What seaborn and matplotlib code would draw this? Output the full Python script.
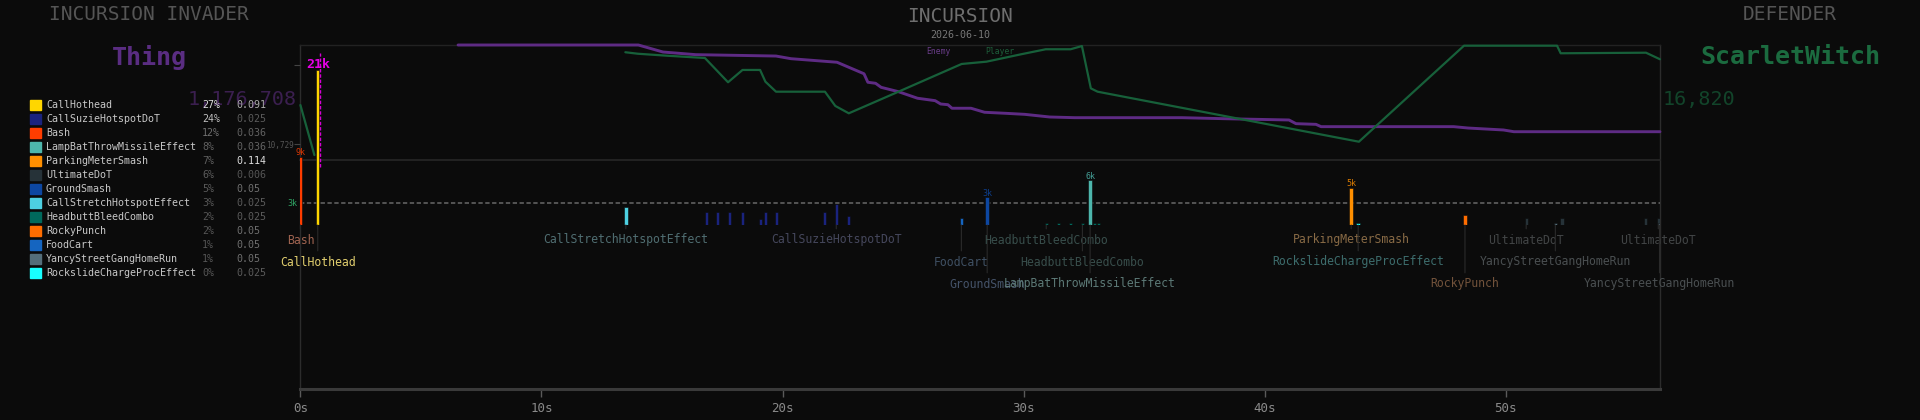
import numpy as np
import pandas as pd
import seaborn as sns
import matplotlib.pyplot as plt
from matplotlib.patches import Rectangle
from matplotlib.colors import to_rgb
from matplotlib.transforms import blended_transform_factory

# ---- data ---------------------------------------------------------------
attacker_name = "Thing"
attacker_hp = "1,176,708"
defender_name = "ScarletWitch"
defender_hp = "16,820"
fight_date = "2026-06-10"

abilities = ["CallHothead", "CallSuzieHotspotDoT", "Bash", "LampBatThrowMissileEffect",
             "ParkingMeterSmash", "UltimateDoT", "GroundSmash", "CallStretchHotspotEffect",
             "HeadbuttBleedCombo", "RockyPunch", "FoodCart", "YancyStreetGangHomeRun",
             "RockslideChargeProcEffect"]
ability_share = [27, 24, 12, 8, 7, 6, 5, 3, 2, 2, 1, 1, 0]
ability_rate = [0.091, 0.025, 0.036, 0.036, 0.114, 0.006, 0.05, 0.025, 0.025, 0.05, 0.05, 0.05, 0.025]

# individual hits: time (s), ability, damage (thousands)
hit_time = [0.00, 0.72, 13.50, 16.84, 17.29, 17.79, 18.33, 19.08, 19.29, 19.74, 21.73, 22.23,
            22.73, 27.42, 28.49, 30.94, 31.44, 31.94, 32.44, 32.76, 32.94, 33.11, 43.59, 43.88,
            48.31, 50.85, 52.06, 52.33, 55.79, 56.33, 56.38]
CS, HB = "CallSuzieHotspotDoT", "HeadbuttBleedCombo"
hit_ability = ["Bash", "CallHothead", "CallStretchHotspotEffect", CS, CS, CS, CS, CS, CS, CS, CS,
               CS, CS, "FoodCart", "GroundSmash", HB, HB, HB, HB, "LampBatThrowMissileEffect",
               HB, HB, "ParkingMeterSmash", "RockslideChargeProcEffect", "RockyPunch",
               "UltimateDoT", "YancyStreetGangHomeRun", "UltimateDoT", "UltimateDoT",
               "UltimateDoT", "YancyStreetGangHomeRun"]
hit_dmg = [9.3, 21.1, 2.4, 1.8, 1.8, 1.8, 1.8, 0.86, 1.8, 1.8, 1.8, 2.8, 1.27, 1.0, 3.8,
           0.3, 0.3, 0.3, 0.3, 6.1, 0.3, 0.3, 5.1, 0.3, 1.4, 0.95, 0.3, 0.95, 0.95, 0.95, 0.3]
dmg_threshold = 3.0
peak_marker_t = 0.83

# hp curves in percent of max
enemy_t = [6.54, 12.43, 14.02, 15.04, 16.40, 19.73, 20.35, 22.26, 23.38, 23.54, 23.86, 24.09,
           24.81, 25.60, 26.33, 26.56, 26.86, 27.03, 27.82, 28.38, 29.26, 30.05, 31.08, 32.12,
           36.57, 38.36, 41.01, 41.30, 42.13, 42.34, 47.84, 48.44, 49.91, 50.34, 56.40]
enemy_hp = [100, 100, 100, 93.9, 91.6, 90.4, 88.1, 85.0, 75.0, 67.6, 66.7, 63.2, 59.4, 53.7,
            51.6, 48.7, 48.1, 45.0, 45.0, 41.5, 40.6, 39.7, 37.4, 36.8, 36.8, 35.9, 34.8, 31.6,
            31.0, 29.0, 29.0, 27.8, 26.1, 24.6, 24.6]
player_t = [0.0, 0.58,
            13.48, 14.00, 15.20, 16.78, 17.74, 18.34, 19.07, 19.29, 19.73, 21.76, 22.19, 22.75,
            24.81, 27.43, 28.46, 29.89, 30.92, 31.95, 32.42, 32.79, 33.07, 43.91, 48.27, 52.13,
            52.28, 55.82, 56.40]
player_hp = [47.8, 4.3,
             93.7, 92.4, 90.7, 88.7, 67.6, 78.3, 78.3, 68.1, 59.4, 59.4, 47.0, 40.6,
             59.4, 83.5, 85.5, 91.9, 96.3, 96.3, 99.1, 62.3, 59.4, 15.9, 99.4, 99.4,
             92.8, 93.3, 87.6]
player_seg = [0, 0] + [1] * 27
hp_tick_pct, hp_tick_label = 13.9, "10,729"

# ---- style / layout -----------------------------------------------------
BG = "#0b0b0b"
ability_colors = dict(zip(abilities, ["#ffd600", "#1a237e", "#ff3d00", "#4db6ac", "#ff8f00",
                                      "#263238", "#0d47a1", "#4dd0e1", "#00695c", "#ff6d00",
                                      "#1565c0", "#546e7a", "#18ffff"]))
ENEMY_C, PLAYER_C = "#5e2b84", "#17603a"
label_rows = [1, 2, 1, 0, 0, 0, 0, 0, 0, 0, 0, 1, 0, 2, 3, 1, 0, 0, 2, 3, 0, 0, 1, 2, 3, 1, 2,
              0, 0, 1, 3]
row_offset = {1: -15, 2: -37, 3: -59}

W, H = 1920, 420
L, R = 300.4, 1660
PX_PER_S = 24.106


def fx(x):
    return x / W


def fy(y):
    return 1 - y / H


def mix(c1, c2, f):
    return tuple(a * (1 - f) + b * f for a, b in zip(to_rgb(c1), to_rgb(c2)))


def gray(level):
    v = 0x55 + (0xdd - 0x55) * level
    return "#%02x%02x%02x" % (int(v), int(v), int(v))


sns.set_theme(style="dark", rc={"axes.facecolor": BG, "figure.facecolor": BG})
plt.rcParams["font.family"] = ["DejaVu Sans Mono", "DejaVu Sans"]

fig = plt.figure(figsize=(19.2, 4.2), dpi=100, facecolor=BG)
xmax = (R - L) / PX_PER_S

ax_main = fig.add_axes([fx(L), fy(389), (R - L) / W, (389 - 45) / H])
ax_hp = fig.add_axes([fx(L), fy(160), (R - L) / W, (160 - 45) / H])
ax_bar = fig.add_axes([fx(L), fy(225), (R - L) / W, (225 - 45) / H])
for ax in (ax_hp, ax_bar):
    ax.set_facecolor("none")
    ax.set_xlim(0, xmax)
    for s in ax.spines.values():
        s.set_visible(False)
    ax.tick_params(bottom=False, labelbottom=False)

# frame + time axis
ax_main.set_facecolor(BG)
ax_main.set_xlim(0, xmax)
ax_main.set_ylim(0, 1)
ax_main.set_yticks([])
ax_main.set_xticks(range(0, 51, 10), [f"{t}s" for t in range(0, 51, 10)])
ax_main.tick_params(axis="x", colors="#5a5a5a", labelcolor="#8a8a8a", labelsize=9,
                    length=6, width=1, pad=3, bottom=True)
for k, s in ax_main.spines.items():
    s.set_visible(True)
    s.set_color("#2c2c2c")
    s.set_linewidth(1)
ax_main.spines["top"].set_color("#222222")
ax_main.spines["bottom"].set_color("#3a3a3a")
ax_main.spines["bottom"].set_linewidth(2.2)

# hp lines
df_enemy = pd.DataFrame({"t": enemy_t, "hp": enemy_hp})
df_player = pd.DataFrame({"t": player_t, "hp": player_hp, "seg": player_seg})
sns.lineplot(data=df_enemy, x="t", y="hp", color=ENEMY_C, lw=2.1, ax=ax_hp,
             estimator=None, sort=False)
sns.lineplot(data=df_player, x="t", y="hp", units="seg", color=PLAYER_C, lw=1.6, ax=ax_hp,
             estimator=None, sort=False)
for ln in ax_hp.lines:
    ln.set_clip_on(False)
ax_hp.set_ylim(0, 100)
ax_hp.set_xlabel("")
ax_hp.set_ylabel("")
ax_hp.spines["bottom"].set_visible(True)
ax_hp.spines["bottom"].set_color("#262626")
ax_hp.set_yticks([hp_tick_pct], [hp_tick_label])
ax_hp.tick_params(axis="y", left=True, length=4, width=0.8, colors="#444444",
                  labelcolor="#555555", labelsize=5.6, pad=1)

# damage bars
vmax = max(hit_dmg)
ax_bar.set_ylim(0, (225 - 45) / ((225 - 203) / dmg_threshold))
bar_colors = [ability_colors[a] for a in hit_ability]
ax_bar.bar(hit_time, hit_dmg, width=0.14, color=bar_colors, edgecolor=BG, linewidth=0.4,
           zorder=3)
ax_bar.axhline(dmg_threshold, color="#5a5a5a", lw=1.3, ls=(0, (2.4, 1.4)), zorder=2)
trans = blended_transform_factory(ax_bar.transAxes, ax_bar.transData)
ax_bar.text(-0.002, dmg_threshold, f"{int(dmg_threshold)}k", transform=trans, ha="right",
            va="center", color="#2fa463", fontsize=6)
ax_bar.vlines(peak_marker_t, 7.9, 23.4, colors="#d400d4", lw=1, linestyles=(0, (2.5, 1.3)),
              zorder=4)
ax_bar.set_yticks([vmax + 0.7], [""])
ax_bar.tick_params(axis="y", left=True, length=4, width=0.8, colors="#444444")

for t, a, v, row in zip(hit_time, hit_ability, hit_dmg, label_rows):
    if v == vmax:
        ax_bar.annotate(f"{int(v)}k", (t, v), xytext=(0, 6), textcoords="offset pixels",
                        ha="center", va="center", color="#e600e6", fontsize=9.5,
                        fontweight="bold", zorder=5)
    elif v >= dmg_threshold:
        ax_bar.annotate(f"{int(v)}k", (t, v), xytext=(0, 4), textcoords="offset pixels",
                        ha="center", va="center", color=mix(ability_colors[a], BG, 0.15),
                        fontsize=6, zorder=5)
    if row:
        a_lvl = 0.45 + 0.55 * min(1.0, v / vmax)
        col = mix(BG, mix(ability_colors[a], "#c8c8c8", 0.55), a_lvl)
        ax_bar.annotate(a, (t, 0), xytext=(0, row_offset[row]), textcoords="offset pixels",
                        ha="center", va="center", color=col, fontsize=8.3,
                        arrowprops=dict(arrowstyle="-", color="#2a2a2a", lw=0.8,
                                        shrinkA=1, shrinkB=0))

# ---- headers -------------------------------------------------------------
fig.text(fx(149), fy(15), "INCURSION INVADER", ha="center", va="center", color="#555555",
         fontsize=14)
fig.text(fx(149), fy(57), attacker_name, ha="center", va="center", color="#5a2d82",
         fontsize=18, fontweight="bold")
fig.text(fx(297), fy(99), attacker_hp, ha="right", va="center", color="#3b1f50", fontsize=14.5)
fig.text(fx(1790), fy(15), "DEFENDER", ha="center", va="center", color="#555555", fontsize=14)
fig.text(fx(1790), fy(57), defender_name, ha="center", va="center", color="#1b6b3f",
         fontsize=18, fontweight="bold")
fig.text(fx(1663), fy(99), defender_hp, ha="left", va="center", color="#12442a", fontsize=14.5)
fig.text(fx(960), fy(16), "INCURSION", ha="center", va="center", color="#6e6e6e", fontsize=14)
fig.text(fx(960), fy(35), fight_date, ha="center", va="center", color="#777777", fontsize=7.2)
fig.text(fx(938), fy(52), "Enemy", ha="center", va="center", color="#6a3d8a", fontsize=5.8)
fig.text(fx(1000), fy(52), "Player", ha="center", va="center", color="#1d5e3a", fontsize=5.8)

# ---- ability legend -----------------------------------------------------
smax, rmax = max(ability_share), max(ability_rate)
for i, (name, share, rate) in enumerate(zip(abilities, ability_share, ability_rate)):
    y = 105 + 14 * i
    fig.patches.append(Rectangle((fx(30), fy(y + 5)), 11 / W, 10 / H,
                                 transform=fig.transFigure, color=ability_colors[name]))
    fig.text(fx(46), fy(y), name, ha="left", va="center", color="#c8c8c8", fontsize=7.2)
    fig.text(fx(202), fy(y), f"{share}%", ha="left", va="center",
             color=gray((share / smax) ** 2), fontsize=7.2)
    fig.text(fx(236), fy(y), f"{rate:g}", ha="left", va="center",
             color=gray((rate / rmax) ** 2), fontsize=7.2)

fig.savefig("out.png", dpi=100, facecolor=BG)
